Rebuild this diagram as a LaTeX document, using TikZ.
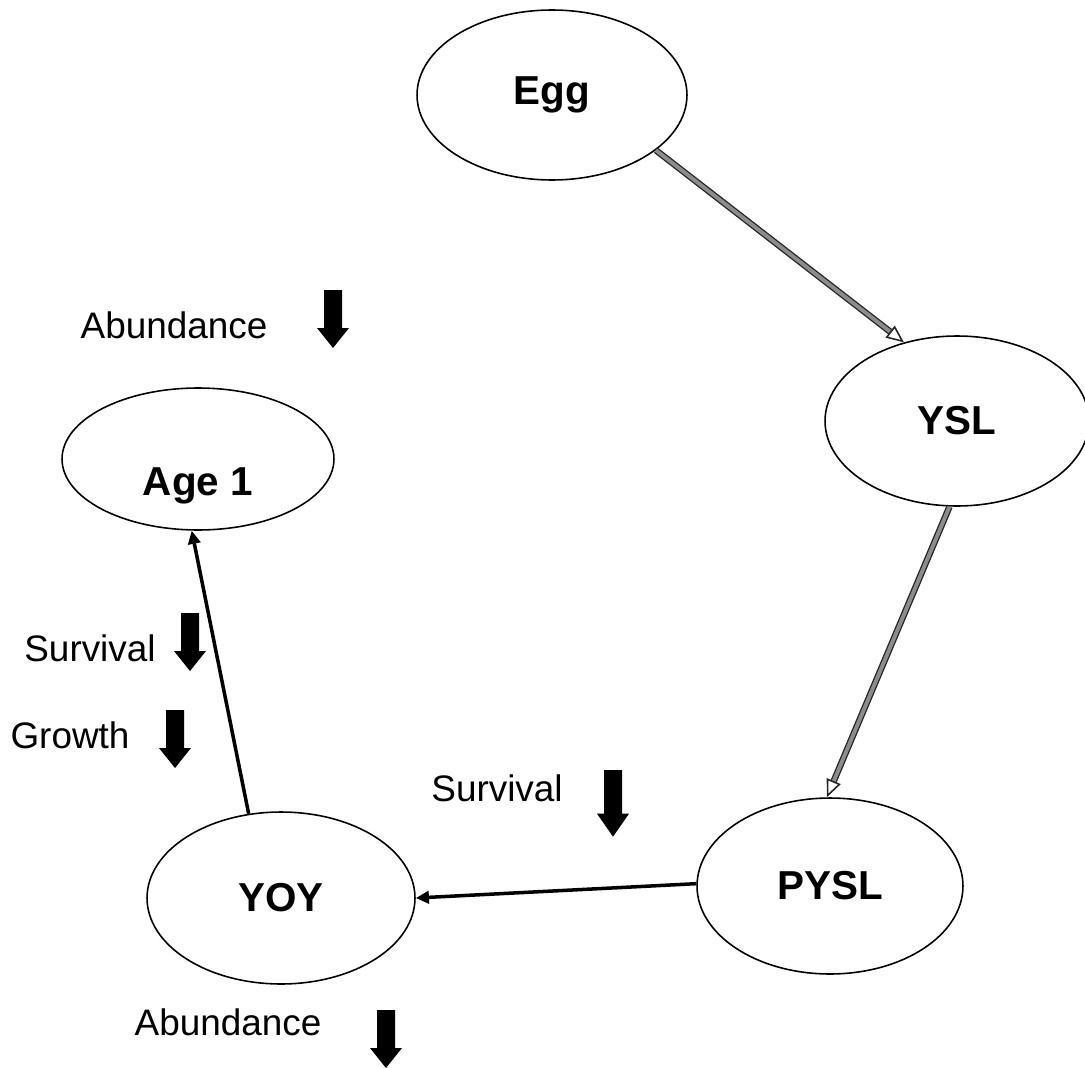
\documentclass[tikz,border=0pt]{standalone}
\usepackage{fontspec}
\setmainfont{Liberation Sans}
\usetikzlibrary{shapes.geometric,arrows.meta}
\tikzset{
  stage/.style={ellipse, draw=black, line width=0.9pt, font=\bfseries\fontsize{23}{27}\selectfont, inner sep=0pt},
  lbl/.style={font=\fontsize{21}{25}\selectfont, inner sep=0pt},
  greyarrow/.style={draw=black!85, line width=0.75pt, double=black!45, double distance=2.2pt,
    -{Triangle[open, length=10pt, width=8.5pt, line width=0.9pt]}},
  blackarrow/.style={draw=black, line width=2pt, -{Triangle[length=7.5pt, width=7pt]}},
  downblk/.pic={\fill[black] (-9,0) -- (9,0) -- (9,38) -- (16,38) -- (0,58) -- (-16,38) -- (-9,38) -- cycle;}
}
\begin{document}
\begin{tikzpicture}[x=0.02cm, y=-0.02cm]
\useasboundingbox (0,0) rectangle (1085,1068);
% stages
\node[stage, minimum width=5.4cm, minimum height=3.4cm] (egg) at (552,95) {Egg};
\node[stage, minimum width=5.28cm, minimum height=3.4cm] (ysl) at (957,421) {YSL};
\node[stage, minimum width=5.44cm, minimum height=2.84cm, text height=1.46cm, text depth=0pt] (age) at (198,459) {Age 1};
\node[stage, minimum width=5.36cm, minimum height=3.44cm] (yoy) at (281,898) {YOY};
\node[stage, minimum width=5.32cm, minimum height=3.52cm] (pysl) at (830,886) {PYSL};
% connectors
\draw[greyarrow] (egg.-28) -- (ysl.124);
\draw[greyarrow] (ysl.-95) -- (pysl.92);
\draw[blackarrow] (pysl.179) -- (yoy.0);
\draw[blackarrow] (yoy.111) -- (age.-95);
% labels with block arrows
\node[lbl] (abtop) at (174,325) {Abundance};
\pic at (333,290) {downblk};
\node[lbl] (survl) at (90,648) {Survival};
\pic at (190,613) {downblk};
\node[lbl] (growth) at (70,735) {Growth};
\pic at (175,710) {downblk};
\node[lbl] (survr) at (497,788) {Survival};
\pic[yscale=1.15] at (613,770) {downblk};
\node[lbl] (abbot) at (228,1022) {Abundance};
\pic at (386,1010) {downblk};
\end{tikzpicture}
\end{document}
